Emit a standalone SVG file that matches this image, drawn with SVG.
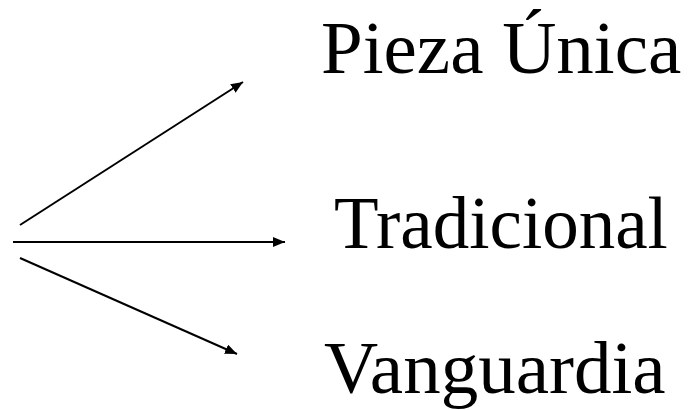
<svg xmlns="http://www.w3.org/2000/svg" width="690" height="410" viewBox="0 0 690 410">
<style>
.lbl{font-family:"Liberation Serif","Times New Roman",serif;font-size:75px;fill:#000}
.arr{stroke:#000;stroke-width:2;fill:none;marker-end:url(#ah)}
</style>
<defs>
<marker id="ah" viewBox="0 0 12 10" refX="12" refY="5" markerWidth="6" markerHeight="5" orient="auto" markerUnits="strokeWidth">
<path d="M0,0 L12,5 L0,10 Z" fill="#000"/>
</marker>
</defs>
<rect width="690" height="410" fill="#fff"/>
<g id="connectors">
<line class="arr" x1="20" y1="225" x2="243" y2="82"/>
<line class="arr" x1="13" y1="242" x2="285" y2="242"/>
<line class="arr" x1="20" y1="258" x2="237" y2="354"/>
</g>
<g id="pieza"><text class="lbl" x="321" y="73">Pieza Única</text></g>
<g id="tradicional"><text class="lbl" x="334" y="248" style="font-size:73px">Tradicional</text></g>
<g id="vanguardia"><text class="lbl" x="324" y="393">Vanguardia</text></g>
</svg>
